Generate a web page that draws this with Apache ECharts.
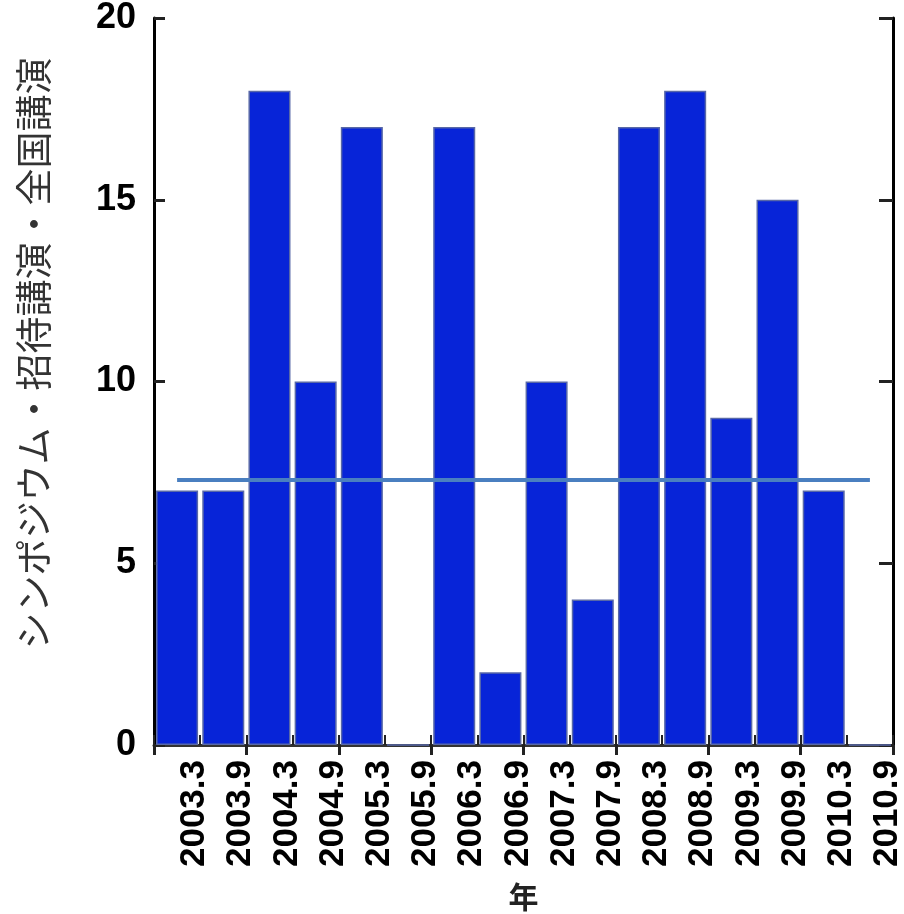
<!DOCTYPE html>
<html>
<head>
<meta charset="utf-8">
<script src="https://cdn.jsdelivr.net/npm/echarts@6/dist/echarts.min.js"></script>
<style>
  html, body { margin: 0; padding: 0; background: #ffffff; }
  #chart { width: 904px; height: 914px; }
</style>
</head>
<body>
<div id="chart"></div>
<script>
// Half-year periods
const periods = ['2003.3', '2003.9', '2004.3', '2004.9', '2005.3', '2005.9', '2006.3', '2006.9',
                 '2007.3', '2007.9', '2008.3', '2008.9', '2009.3', '2009.9', '2010.3', '2010.9'];
// Number of symposium / invited / national talks per period
const talks = [7, 7, 18, 10, 17, 0, 17, 2, 10, 4, 17, 18, 9, 15, 7, 0];
// Reference level drawn across the bars
const referenceLevel = 7.3;
// Value axis ticks
const yTicks = [0, 5, 10, 15, 20];

const font = '"Liberation Sans", Arial, sans-serif';
const cjkFont = '"Noto Sans CJK JP", "Noto Sans CJK SC", sans-serif';

const chart = echarts.init(document.getElementById('chart'), null, { renderer: 'canvas' });

chart.setOption({
  animation: false,
  backgroundColor: '#ffffff',
  grid: { left: 154, right: 11, top: 18, bottom: 169, containLabel: false, outerBoundsMode: 'none' },
  xAxis: [
    {
      type: 'category',
      data: periods,
      position: 'bottom',
      boundaryGap: true,
      axisLine: { show: true, lineStyle: { color: '#333333', width: 3 } },
      axisTick: { show: true, inside: true, length: 10, lineStyle: { color: '#222222', width: 2 } },
      axisLabel: {
        rotate: 90,
        interval: 0,
        margin: 15,
        color: '#000000',
        fontFamily: font,
        fontWeight: 'bold',
        fontSize: 35,
        verticalAlign: 'top'
      },
      name: '年',
      nameLocation: 'middle',
      nameGap: 137,
      nameTextStyle: { fontFamily: cjkFont, fontSize: 30, fontWeight: 'bold', color: '#222222' }
    },
    {
      type: 'category',
      data: periods,
      position: 'top',
      boundaryGap: true,
      axisLine: { show: false },
      axisTick: { show: true, inside: true, length: 10, lineStyle: { color: '#222222', width: 3 } },
      axisLabel: { show: false }
    }
  ],
  yAxis: [
    {
      type: 'value',
      min: yTicks[0],
      max: yTicks[yTicks.length - 1],
      interval: 5,
      position: 'left',
      splitLine: { show: false },
      axisLine: { show: true, lineStyle: { color: '#000000', width: 3 } },
      axisTick: { show: true, inside: true, length: 11, lineStyle: { color: '#222222', width: 3 } },
      axisLabel: {
        margin: 18,
        color: '#000000',
        fontFamily: font,
        fontWeight: 'bold',
        fontSize: 36
      },
      name: 'シンポジウム・招待講演・全国講演',
      nameLocation: 'middle',
      nameRotate: 90,
      nameGap: 102,
      nameTextStyle: {
        fontFamily: cjkFont,
        fontSize: 37,
        fontWeight: 'normal',
        color: '#333333',
        padding: [0, 0, 0, 56]
      }
    },
    {
      type: 'value',
      min: yTicks[0],
      max: yTicks[yTicks.length - 1],
      interval: 5,
      position: 'right',
      splitLine: { show: false },
      axisLine: { show: true, lineStyle: { color: '#000000', width: 3 } },
      axisTick: { show: true, inside: true, length: 14, lineStyle: { color: '#222222', width: 3 } },
      axisLabel: { show: false }
    }
  ],
  series: [
    {
      type: 'bar',
      data: talks,
      xAxisIndex: 0,
      yAxisIndex: 0,
      barCategoryGap: '9%',
      itemStyle: { color: '#0724d8', borderColor: '#5868a8', borderWidth: 1.5 },
      markLine: {
        silent: true,
        symbol: 'none',
        label: { show: false },
        lineStyle: { color: '#4a7fc0', width: 4, type: 'solid' },
        data: [[
          { coord: [periods[0], referenceLevel] },
          { coord: [periods[periods.length - 1], referenceLevel] }
        ]]
      }
    }
  ]
});
</script>
</body>
</html>
